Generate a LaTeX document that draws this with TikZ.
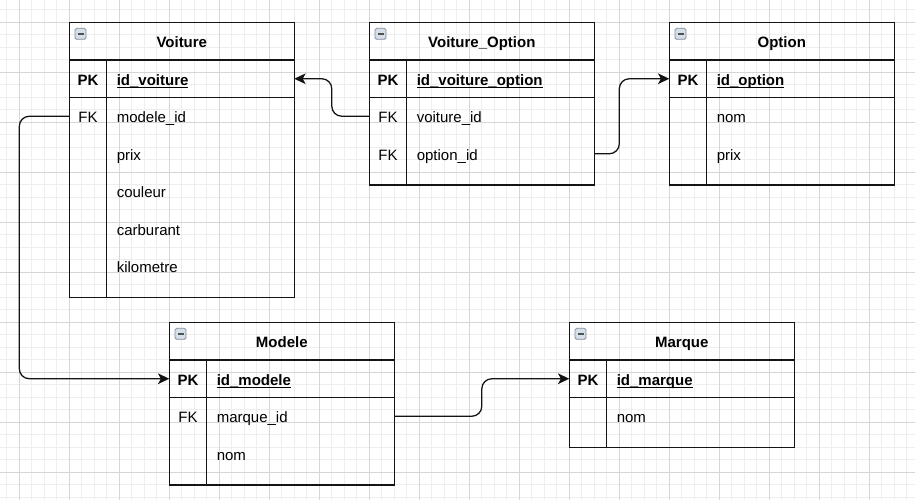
\documentclass[tikz,border=0pt]{standalone}
\usepackage{fontspec}
\setmainfont{Liberation Sans}
\usetikzlibrary{arrows.meta,calc}
\definecolor{gridminor}{RGB}{238,238,238}
\definecolor{gridmajor}{RGB}{214,214,214}
\definecolor{iconfill}{RGB}{214,222,232}
\definecolor{iconborder}{RGB}{128,140,156}
\definecolor{iconbar}{RGB}{80,80,80}
\definecolor{inkline}{RGB}{20,20,20}
\tikzset{
  tblline/.style={draw=inkline, line width=0.95pt},
  tblframe/.style={tblline, rectangle, minimum width=168.75pt, inner sep=0pt, outer sep=0pt},
  rowbox/.style={rectangle, draw=none, minimum width=168.75pt, minimum height=28.125pt, inner sep=0pt, outer sep=0pt},
  txt/.style={inner sep=0pt, outer sep=0pt, font=\fontsize{11.25}{13.5}\selectfont, text=black},
  titletxt/.style={txt, anchor=base, font=\fontsize{11.25}{13.5}\selectfont\bfseries},
  keytxt/.style={txt, anchor=base},
  fldtxt/.style={txt, anchor=base west},
  ulline/.style={draw=black, line width=0.9pt},
  conn/.style={draw=inkline, line width=0.95pt, rounded corners=7.5pt,
    -{Stealth[length=8.5pt, width=8pt, inset=2.2pt]}},
}
% #1 name, #2 x, #3 y, #4 height (px), #5 title
\newcommand{\ertable}[5]{%
  \node[tblframe, minimum height=#4*0.75pt, anchor=north west] (#1) at (#2,#3) {};
  \node[titletxt] (#1-title) at ($(#1.north)+(0,24.75)$) {#5};
  \draw[tblline] ($(#1.north west)+(0,37.5)$) -- ($(#1.north east)+(0,37.5)$);
  \draw[tblline] ($(#1.north west)+(0,75)$) -- ($(#1.north east)+(0,75)$);
  \draw[tblline] ($(#1.north west)+(37.5,37.5)$) -- ($(#1.south west)+(37.5,0)$);
  \draw[draw=iconborder, fill=iconfill, line width=0.6pt, rounded corners=1.2pt]
     ($(#1.north west)+(5.7,5.8)$) rectangle ++(11,11);
  \draw[draw=iconbar, line width=1.3pt] ($(#1.north west)+(8.2,11.3)$) -- ++(6,0);
}
% #1 name, #2 table, #3 y offset (px) from top, #4 key, #5 field
\newcommand{\errow}[5]{%
  \node[rowbox, anchor=north west] (#1) at ($(#2.north west)+(0,#3)$) {};
  \node[keytxt] (#1-k) at ($(#1.west)+(18.75,6.5)$) {#4};
  \node[fldtxt] (#1-f) at ($(#1.west)+(47.5,6.5)$) {#5};
}
\newcommand{\pkline}[1]{%
  \draw[ulline] ($(#1-f.base west)+(0,2)$) -- ($(#1-f.base east)+(0,2)$);
}
\begin{document}
\begin{tikzpicture}[x=0.75pt, y=-0.75pt]
\useasboundingbox (0,0) rectangle (915,500);
\fill[white] (0,0) rectangle (915,500);
% grid
\foreach \i in {0,...,72} {
  \draw[gridminor, line width=0.75pt] (6.8+12.5*\i,0) -- (6.8+12.5*\i,500);
}
\foreach \i in {0,...,39} {
  \draw[gridminor, line width=0.75pt] (0,9.8+12.5*\i) -- (915,9.8+12.5*\i);
}
\foreach \i in {0,...,17} {
  \draw[gridmajor, line width=0.75pt] (19.3+50*\i,0) -- (19.3+50*\i,500);
}
\foreach \i in {0,...,9} {
  \draw[gridmajor, line width=0.75pt] (0,22.3+50*\i) -- (915,22.3+50*\i);
}

% Voiture
\ertable{voiture}{69.3}{22.5}{275}{Voiture}
\errow{vpk}{voiture}{37.5}{\textbf{PK}}{\textbf{id\_voiture}}
\pkline{vpk}
\errow{vmod}{voiture}{75}{FK}{modele\_id}
\errow{vprix}{voiture}{112.5}{}{prix}
\errow{vcoul}{voiture}{150}{}{couleur}
\errow{vcarb}{voiture}{187.5}{}{carburant}
\errow{vkm}{voiture}{225}{}{kilometre}

% Voiture_Option
\ertable{vopt}{369.3}{22.5}{162.5}{Voiture\_Option}
\errow{vopk}{vopt}{37.5}{\textbf{PK}}{\textbf{id\_voiture\_option}}
\pkline{vopk}
\errow{vovid}{vopt}{75}{FK}{voiture\_id}
\errow{vooid}{vopt}{112.5}{FK}{option\_id}

% Option
\ertable{option}{669.3}{22.5}{162.5}{Option}
\errow{opk}{option}{37.5}{\textbf{PK}}{\textbf{id\_option}}
\pkline{opk}
\errow{onom}{option}{75}{}{nom}
\errow{oprix}{option}{112.5}{}{prix}

% Modele
\ertable{modele}{169.3}{322.5}{162.5}{Modele}
\errow{mpk}{modele}{37.5}{\textbf{PK}}{\textbf{id\_modele}}
\pkline{mpk}
\errow{mmid}{modele}{75}{FK}{marque\_id}
\errow{mnom}{modele}{112.5}{}{nom}

% Marque
\ertable{marque}{569.3}{322.5}{125}{Marque}
\errow{mqpk}{marque}{37.5}{\textbf{PK}}{\textbf{id\_marque}}
\pkline{mqpk}
\errow{mqnom}{marque}{75}{}{nom}

% connectors
\draw[conn] (vmod.west) -- ++(-50,0) |- (mpk.west);
\draw[conn] (vovid.west) -- ++(-37.5,0) |- (vpk.east);
\draw[conn] (vooid.east) -- ++(25,0) |- (opk.west);
\draw[conn] (mmid.east) -- ++(87.5,0) |- (mqpk.west);
\end{tikzpicture}
\end{document}
